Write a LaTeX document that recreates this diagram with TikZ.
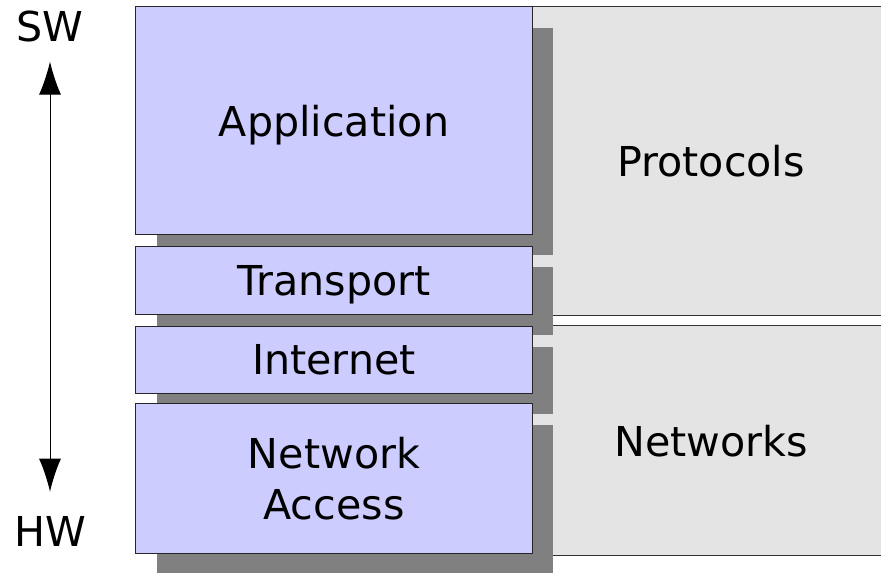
\documentclass[tikz,border=0pt]{standalone}
\usepackage{fontspec}
\setmainfont{DejaVu Sans}
\usepackage{tikz}
\usetikzlibrary{arrows.meta}
\usetikzlibrary{shadows}

\definecolor{layerblue}{HTML}{CCCCFF}
\definecolor{sidegray}{HTML}{E4E4E4}
\definecolor{shadowgray}{HTML}{808080}

\tikzset{
	label text/.style={font=\fontsize{29.3}{36.3}\selectfont, align=center, text depth=0pt},
	layer/.style={label text, draw=black!85, line width=0.7pt, fill=layerblue,
		minimum width=9.9cm, inner sep=0pt, outer sep=0pt,
		drop shadow={shadow xshift=0.525cm, shadow yshift=-0.525cm, fill=shadowgray, opacity=1}},
	side/.style={label text, draw=black!80, line width=0.7pt, fill=sidegray,
		minimum width=8.95cm, inner sep=0pt, outer sep=0pt}
}

\begin{document}
\begin{tikzpicture}[x=0.025cm, y=-0.025cm]
		\clip (0,0) rectangle (881,572);
		\useasboundingbox (0,0) rectangle (881,572);
		% right column
		\node[side, minimum height=7.7cm] (protocols) at (711,161) {Protocols};
		\node[side, minimum height=5.725cm] (networks) at (711,440.5) {Networks};
		% layer stack
		\node[layer, minimum height=5.675cm] (application) at (334,120.5) {Application};
		\node[layer, minimum height=1.7cm] (transport) at (334,280) {Transport};
		\node[layer, minimum height=1.675cm] (internet) at (334,359.5) {Internet};
		\node[layer, minimum height=3.725cm] (access) at (334,478.5) {Network\\Access};
		% sw / hw axis
		\node[label text, inner sep=0pt] (sw) at (50,26) {SW};
		\node[label text, inner sep=0pt] (hw) at (50,531) {HW};
		\draw[{Latex[length=0.825cm, width=0.55cm]}-{Latex[length=0.825cm, width=0.55cm]}, line width=0.7pt,
			shorten <=0.5cm, shorten >=0.6cm] (sw.south) -- (hw.north);
	\end{tikzpicture}
\end{document}
